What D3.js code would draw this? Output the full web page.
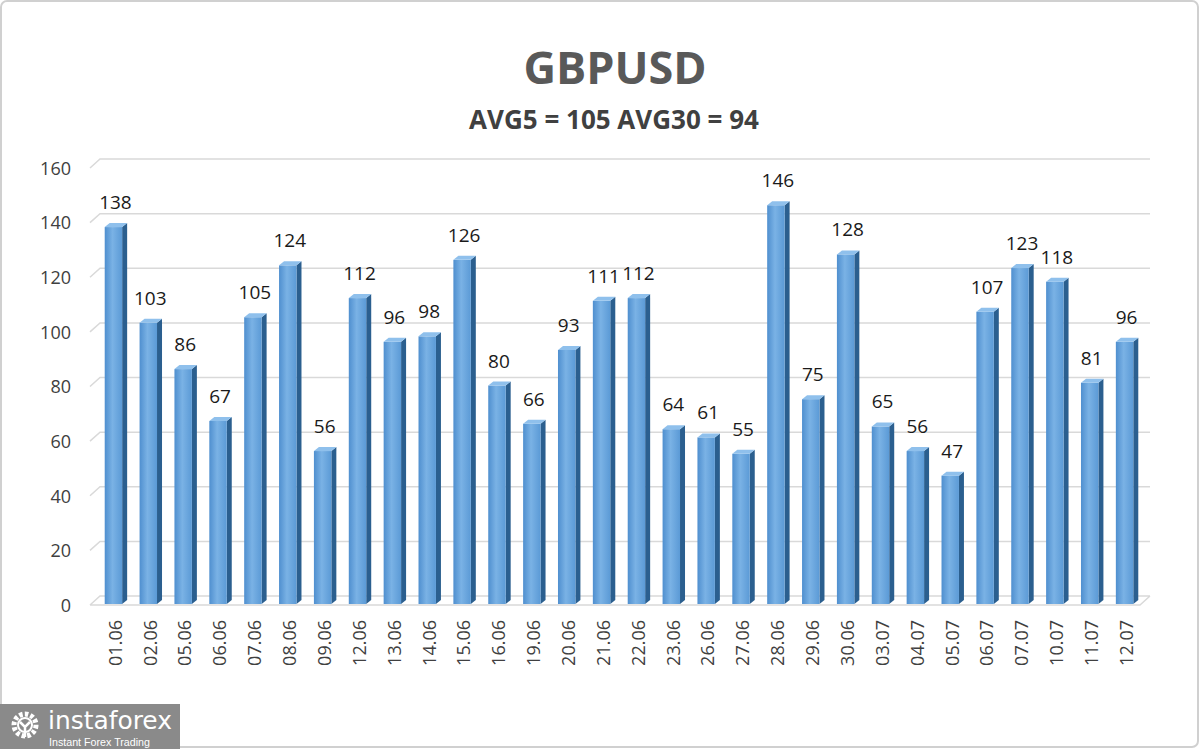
<!DOCTYPE html>
<html><head><meta charset="utf-8">
<script src="https://cdn.jsdelivr.net/npm/d3@7"></script>
<style>body{margin:0;background:#fff;}svg{display:block;font-family:"Open Sans","Noto Sans",sans-serif;}</style>
</head><body><div id="c"></div>
<script>
const categories = ["01.06","02.06","05.06","06.06","07.06","08.06","09.06","12.06","13.06","14.06","15.06","16.06","19.06","20.06","21.06","22.06","23.06","26.06","27.06","28.06","29.06","30.06","03.07","04.07","05.07","06.07","07.07","10.07","11.07","12.07"];
const values = [138,103,86,67,105,124,56,112,96,98,126,80,66,93,111,112,64,61,55,146,75,128,65,56,47,107,123,118,81,96];
const yTicks = [0,20,40,60,80,100,120,140,160];
const title = "GBPUSD";
const subtitle = "AVG5 = 105 AVG30 = 94";

const W=1200,H=749;
const svg=d3.select("#c").append("svg").attr("width",W).attr("height",H);
const defs=svg.append("defs");
const g1=defs.append("linearGradient").attr("id","front").attr("x1","0").attr("x2","1").attr("y1","0").attr("y2","0");
g1.append("stop").attr("offset","0%").attr("stop-color","#4f8fcf");
g1.append("stop").attr("offset","45%").attr("stop-color","#7ab2e5");
g1.append("stop").attr("offset","100%").attr("stop-color","#5b9ad6");

// frame
svg.append("rect").attr("x",1).attr("y",1).attr("width",W-3).attr("height",H-3).attr("rx",6)
  .attr("fill","#fff").attr("stroke","#d0d0d0").attr("stroke-width",2);

const y=d3.scaleLinear().domain([0,160]).range([605,168]);
const x=d3.scaleBand().domain(categories).range([96,1142]).paddingInner(0.5).paddingOuter(0.25);
const dx=10, dy=-9;  // wall depth
const x0=90, x1=1140;

// gridlines (3D wall)
const grid=svg.append("g");
yTicks.forEach(t=>{
  const yy=y(t);
  grid.append("path").attr("d",`M${x0},${yy}L${x0+dx},${yy+dy}L${x1+dx},${yy+dy}`+(t===0?`M${x0},${yy}L${x1},${yy}L${x1+dx},${yy+dy}`:""))
   .attr("fill","none").attr("stroke","#d9d9d9").attr("stroke-width",1.5);
});

// y axis labels
const yAxis=d3.axisLeft(y).tickValues(yTicks).tickSize(0).tickPadding(0);
const ya=svg.append("g").attr("transform","translate(71,0)").call(yAxis);
ya.select(".domain").remove();
ya.selectAll("text").attr("font-size",18).attr("fill","#404040").attr("font-family","'Open Sans',sans-serif").attr("dy","0.35em");

// bars
const bd=5, bdy=-4;
const bars=svg.append("g");
categories.forEach((c,i)=>{
  const v=values[i];
  const bx=x(c), bw=x.bandwidth();
  const top=y(v)-1, bot=y(0)-1;
  bars.append("path").attr("d",`M${bx+bw},${top}L${bx+bw+bd},${top+bdy}L${bx+bw+bd},${bot+bdy}L${bx+bw},${bot}Z`).attr("fill","#2b5f8f");
  bars.append("rect").attr("x",bx).attr("y",top).attr("width",bw).attr("height",bot-top).attr("fill","url(#front)");
  bars.append("path").attr("d",`M${bx},${top}L${bx+bd},${top+bdy}L${bx+bw+bd},${top+bdy}L${bx+bw},${top}Z`).attr("fill","#8fc0ec");
  bars.append("text").attr("x",bx+bw/2+2).attr("y",top-18).attr("text-anchor","middle")
    .attr("font-size",19).attr("fill","#1a1a1a").text(v);
});

// x axis labels
const xa=svg.append("g").attr("transform","translate(0,618)").call(d3.axisBottom(x).tickSize(0).tickPadding(0));
xa.select(".domain").remove();
xa.selectAll("text").attr("font-size",18).attr("fill","#404040").attr("font-family","'Open Sans',sans-serif")
  .attr("transform","rotate(-90)").attr("text-anchor","end").attr("x",-2).attr("y",2).attr("dy","0.35em").attr("dx","0");
xa.selectAll(".tick").attr("transform",d=>`translate(${x(d)+x.bandwidth()/2},0)`);

// titles
svg.append("text").attr("x",615).attr("y",84).attr("text-anchor","middle").attr("font-size",45).attr("font-weight","bold").attr("fill","#595959").text(title);
svg.append("text").attr("x",614).attr("y",129).attr("text-anchor","middle").attr("font-size",26).attr("font-weight","bold").attr("fill","#404040").text(subtitle);

// logo
const lg=svg.append("g");
lg.append("rect").attr("x",0).attr("y",704).attr("width",180).attr("height",45).attr("fill","#8a8a8a");
const gear=lg.append("g").attr("transform","translate(25,725)");
gear.append("circle").attr("r",11).attr("fill","none").attr("stroke","#fff").attr("stroke-width",5).attr("stroke-dasharray","3.5 2.2");
gear.append("circle").attr("r",7).attr("fill","none").attr("stroke","#fff").attr("stroke-width",2);
gear.append("path").attr("d","M-5,-3L0,2L5,-3M0,2L0,12").attr("stroke","#fff").attr("stroke-width",2.5).attr("fill","none");
lg.append("text").attr("x",48).attr("y",729).attr("font-size",24).attr("fill","#fff").attr("font-family","'DejaVu Sans',sans-serif")
  .attr("textLength",124).attr("lengthAdjust","spacingAndGlyphs").text("instaforex");
lg.append("text").attr("x",49).attr("y",746).attr("font-size",10.5).attr("fill","#fff").attr("font-family","Arial,'Liberation Sans',sans-serif")
  .attr("textLength",101).attr("lengthAdjust","spacingAndGlyphs").text("Instant Forex Trading");
</script></body></html>
